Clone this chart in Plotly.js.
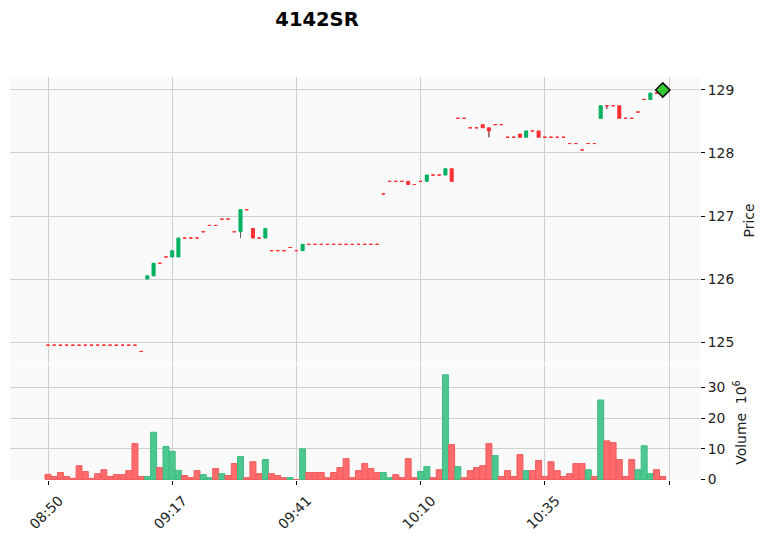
<!DOCTYPE html>
<html><head><meta charset="utf-8">
<script src="https://cdn.plot.ly/plotly-3.0.1.min.js"></script>
<style>html,body{margin:0;padding:0;background:#fff}#chart{width:765px;height:537px}</style>
</head><body><div id="chart"></div>
<script>
const titleText = "4142SR";
const tickIndex = [0, 20, 40, 60, 80];
const tickLabels = ["08:50", "09:17", "09:41", "10:10", "10:35"];
const extraTickIndex = [100];

const opens = [124.95,124.95,124.95,124.95,124.95,124.95,124.95,124.95,124.95,124.95,124.95,124.95,124.95,124.95,124.95,
  124.85,126.0,126.05,126.25,126.35,126.35,126.35,126.65,126.65,126.65,126.75,126.85,126.85,126.95,126.95,
  126.75,126.75,127.1,126.8,126.65,126.65,126.45,126.45,126.45,126.5,126.45,126.45,
  126.55,126.55,126.55,126.55,126.55,126.55,126.55,126.55,126.55,126.55,126.55,126.55,
  127.35,127.55,127.55,127.55,127.55,127.5,127.55,127.55,127.65,127.65,127.65,127.75,
  128.55,128.55,128.4,128.4,128.45,128.4,128.45,128.45,128.25,128.25,128.3,128.25,128.35,128.35,
  128.25,128.25,128.25,128.25,128.15,128.15,128.05,128.15,128.15,
  128.55,128.75,128.75,128.75,128.55,128.55,128.65,128.85,128.85,128.95,128.95];
const highs = [124.95,124.95,124.95,124.95,124.95,124.95,124.95,124.95,124.95,124.95,124.95,124.95,124.95,124.95,124.95,
  124.85,126.05,126.25,126.25,126.35,126.45,126.65,126.65,126.65,126.65,126.75,126.85,126.85,126.95,126.95,
  126.75,127.1,127.1,126.8,126.65,126.8,126.45,126.45,126.45,126.5,126.45,126.55,
  126.55,126.55,126.55,126.55,126.55,126.55,126.55,126.55,126.55,126.55,126.55,126.55,
  127.35,127.55,127.55,127.55,127.55,127.5,127.55,127.65,127.65,127.65,127.75,127.75,
  128.55,128.55,128.4,128.4,128.45,128.4,128.45,128.45,128.25,128.25,128.3,128.35,128.35,128.35,
  128.25,128.25,128.25,128.25,128.15,128.15,128.05,128.15,128.15,
  128.75,128.75,128.75,128.75,128.55,128.55,128.65,128.85,128.95,128.95,128.95];
const lows = [124.95,124.95,124.95,124.95,124.95,124.95,124.95,124.95,124.95,124.95,124.95,124.95,124.95,124.95,124.95,
  124.85,126.0,126.05,126.25,126.35,126.35,126.35,126.65,126.65,126.65,126.75,126.85,126.85,126.95,126.95,
  126.75,126.65,127.1,126.65,126.65,126.65,126.45,126.45,126.45,126.5,126.45,126.45,
  126.55,126.55,126.55,126.55,126.55,126.55,126.55,126.55,126.55,126.55,126.55,126.55,
  127.35,127.55,127.55,127.55,127.5,127.5,127.55,127.55,127.65,127.65,127.65,127.55,
  128.55,128.55,128.4,128.4,128.4,128.25,128.45,128.45,128.25,128.25,128.25,128.25,128.35,128.25,
  128.25,128.25,128.25,128.25,128.15,128.15,128.05,128.15,128.15,
  128.55,128.7,128.75,128.55,128.55,128.55,128.65,128.85,128.85,128.95,128.95];
const closes = [124.95,124.95,124.95,124.95,124.95,124.95,124.95,124.95,124.95,124.95,124.95,124.95,124.95,124.95,124.95,
  124.85,126.05,126.25,126.25,126.35,126.45,126.65,126.65,126.65,126.65,126.75,126.85,126.85,126.95,126.95,
  126.75,127.1,127.1,126.65,126.65,126.8,126.45,126.45,126.45,126.5,126.45,126.55,
  126.55,126.55,126.55,126.55,126.55,126.55,126.55,126.55,126.55,126.55,126.55,126.55,
  127.35,127.55,127.55,127.55,127.5,127.5,127.55,127.65,127.65,127.65,127.75,127.55,
  128.55,128.55,128.4,128.4,128.4,128.35,128.45,128.45,128.25,128.25,128.25,128.35,128.35,128.25,
  128.25,128.25,128.25,128.25,128.15,128.15,128.05,128.15,128.15,
  128.75,128.75,128.75,128.55,128.55,128.55,128.65,128.85,128.95,128.95,128.95];
const volumes = [1.7,1.0,2.3,1.0,0.4,4.5,2.6,0.4,1.9,3.2,1.0,1.6,1.6,2.9,11.7,1.0,1.0,15.4,3.9,10.8,
  9.2,3.0,1.3,0.6,2.9,1.6,0.6,3.6,1.9,1.3,5.2,7.5,0.6,5.8,1.9,6.5,1.9,1.3,0.6,0.6,
  0,10.0,2.3,2.3,2.3,0.6,2.3,3.9,6.8,0.6,2.9,5.2,3.6,2.3,2.3,0.6,1.6,0.6,6.8,0.6,
  2.6,4.2,0.6,3.2,34.1,11.4,4.2,0.6,2.9,3.9,4.5,11.7,7.8,1.0,2.9,1.0,8.1,2.9,2.9,6.2,
  1.0,5.8,2.9,1.0,1.9,5.2,5.2,3.2,1.0,25.9,12.6,12.0,6.5,1.0,6.5,3.2,11.0,1.9,3.2,1.0];
const markerX = [99];
const markerY = [129.0];

const UP = '#00b060', DOWN = '#fe3032', WICK = '#606060';
const VUP = '#4dc790', VDOWN = '#fd6b6c';
const idx = opens.map((_, i) => i);

function pick(cond) {
  const o = {x: [], open: [], high: [], low: [], close: []};
  idx.forEach(i => { if (cond(i)) { o.x.push(i); o.open.push(opens[i]); o.high.push(highs[i]); o.low.push(lows[i]); o.close.push(closes[i]); } });
  return o;
}
const upSet = pick(i => closes[i] > opens[i]);
const dnSet = pick(i => !(closes[i] > opens[i]));

const candleUp = Object.assign({type: 'candlestick', xaxis: 'x', yaxis: 'y', hoverinfo: 'skip', showlegend: false,
  increasing: {line: {color: UP, width: 1}, fillcolor: UP},
  decreasing: {line: {color: UP, width: 1}, fillcolor: UP}}, upSet);
const candleDn = Object.assign({type: 'candlestick', xaxis: 'x', yaxis: 'y', hoverinfo: 'skip', showlegend: false,
  increasing: {line: {color: DOWN, width: 1}, fillcolor: DOWN},
  decreasing: {line: {color: DOWN, width: 1}, fillcolor: DOWN}}, dnSet);

// gray wicks outside the bodies
const wx = [], wy = [];
idx.forEach(i => {
  const top = Math.max(opens[i], closes[i]), bot = Math.min(opens[i], closes[i]);
  if (highs[i] > top) { wx.push(i, i, null); wy.push(top, highs[i], null); }
  if (lows[i] < bot) { wx.push(i, i, null); wy.push(bot, lows[i], null); }
});
const wicks = {type: 'scatter', mode: 'lines', x: wx, y: wy, xaxis: 'x', yaxis: 'y',
  line: {color: WICK, width: 1}, hoverinfo: 'skip', showlegend: false, connectgaps: false};

const diamond = {type: 'scatter', mode: 'markers', x: markerX, y: markerY, xaxis: 'x', yaxis: 'y',
  marker: {symbol: 'diamond', size: 11, color: '#33cc33', line: {color: '#111', width: 1.6}},
  hoverinfo: 'skip', showlegend: false};

const vcolors = volumes.map((v, i) => (i === 0 ? closes[0] > opens[0] : closes[i] > closes[i - 1]) ? VUP : VDOWN);
const vedges = vcolors.map(c => c === VUP ? '#3dbb82' : '#f45a5c');
const vol = {type: 'bar', x: idx, y: volumes, xaxis: 'x2', yaxis: 'y2', width: 0.96,
  marker: {color: vcolors, line: {color: vedges, width: 1}}, hoverinfo: 'skip', showlegend: false};

const FONT = 'DejaVu Sans, Verdana, sans-serif';
const GRID = '#d0d0d0';
const xr = [-38 / 6.21, -38 / 6.21 + 690 / 6.21];
const layout = {
  width: 765, height: 537,
  margin: {l: 10, r: 65, t: 77, b: 57, pad: 0},
  paper_bgcolor: '#ffffff', plot_bgcolor: '#fafafa',
  font: {family: FONT, size: 13.9, color: '#222'},
  showlegend: false,
  title: {text: '<b>' + titleText + '</b>', x: 317 / 765, xanchor: 'center', xref: 'container',
    y: 1 - 19 / 537, yanchor: 'middle', yref: 'container', font: {family: FONT, size: 19.5, color: '#000'}},
  xaxis: {domain: [0, 1], anchor: 'y', range: xr, tickvals: tickIndex, ticktext: tickLabels, showticklabels: false,
    ticks: '', showgrid: true, gridcolor: GRID, gridwidth: 1, zeroline: false, showline: false,
    minor: {tickvals: extraTickIndex, showgrid: true, gridcolor: GRID, gridwidth: 1, ticks: ''},
    rangeslider: {visible: false}},
  xaxis2: {domain: [0, 1], anchor: 'y2', matches: 'x', range: xr, tickvals: tickIndex, ticktext: tickLabels,
    tickangle: -45, ticks: 'outside', ticklen: 4, tickwidth: 1, tickcolor: '#000', showgrid: true,
    ticklabelshift: 11, ticklabelstandoff: 2,
    minor: {tickvals: extraTickIndex, showgrid: true, gridcolor: GRID, gridwidth: 1, ticks: 'outside', ticklen: 4, tickwidth: 1, tickcolor: '#000'},
    gridcolor: GRID, gridwidth: 1, zeroline: false, showline: false, rangeslider: {visible: false}},
  yaxis: {domain: [0.2878, 1], anchor: 'x', side: 'right', range: [124.651, 129.206],
    tickvals: [125, 126, 127, 128, 129], ticks: 'outside', ticklen: 4, tickcolor: '#000',
    gridcolor: GRID, gridwidth: 1, zeroline: false, showline: false,
    title: {text: 'Price', font: {family: FONT, size: 13.9, color: '#222'}, standoff: 10}},
  yaxis2: {domain: [0, 0.2854], anchor: 'x2', side: 'right', range: [-0.15, 37.3],
    tickvals: [0, 10, 20, 30], ticks: 'outside', ticklen: 4, tickcolor: '#000',
    gridcolor: GRID, gridwidth: 1, zeroline: false, showline: false,
    title: {text: 'Volume  10<sup>6</sup>', font: {family: FONT, size: 13.9, color: '#222'}, standoff: 11}}
};

Plotly.newPlot('chart', [vol, candleUp, candleDn, wicks, diamond], layout, {displayModeBar: false, staticPlot: true});
</script></body></html>
